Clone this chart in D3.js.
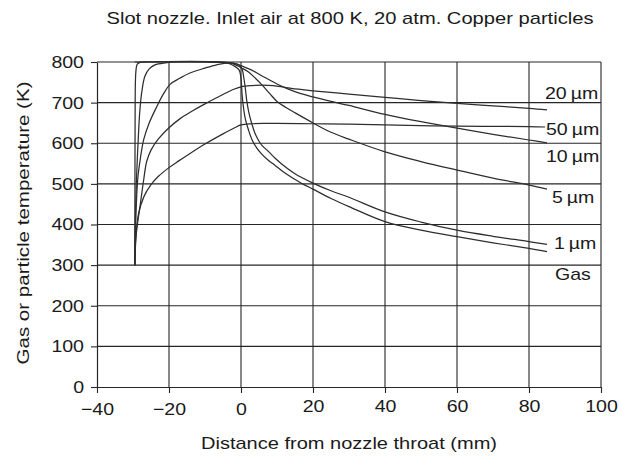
<!DOCTYPE html>
<html><head><meta charset="utf-8">
<script src="https://cdn.jsdelivr.net/npm/d3@7/dist/d3.min.js"></script>
<style>body{margin:0;background:#fff}svg{display:block}</style>
</head><body>
<svg id="chart" width="619" height="457"></svg>
<script>
// ---------- data ----------
const titleText = "Slot nozzle. Inlet air at 800 K, 20 atm. Copper particles";
const xLabelText = "Distance from nozzle throat (mm)";
const yLabelText = "Gas or particle temperature (K)";
const xTicks = [-40, -20, 0, 20, 40, 60, 80, 100];
const yTicks = [0, 100, 200, 300, 400, 500, 600, 700, 800];

const seriesNames = ["Gas", "1\u2009\u00b5m", "5\u2009\u00b5m", "10\u2009\u00b5m", "20\u2009\u00b5m", "50\u2009\u00b5m"];

const gasX = [-29.5, -6, -3, -1.5, -0.5, 0, 0.3, 0.6, 1.2, 2, 3, 4.4, 5.7, 7.5, 9.4, 12, 16.9, 20, 25, 30, 40, 50, 60, 70, 80, 85];
const gasT = [800, 800, 795, 788, 780, 760, 720, 694, 660, 635, 610, 588, 574, 559, 546, 528, 501, 487, 464, 444, 407, 386, 370, 355, 341, 333];

const p1X = [-29.5, -29.45, -29.4, -29.3, -29.1, -28.8, -28, -26, -5, -2, -0.5, 0.3, 0.8, 1.2, 1.6, 2.2, 3, 4, 5, 6, 7.6, 9.5, 11.3, 15, 20, 25, 30, 40, 50, 60, 70, 80, 85];
const p1T = [300, 550, 700, 760, 785, 795, 799, 800, 800, 797, 792, 782, 760, 735, 705, 675, 648, 622, 605, 593, 580, 563, 549, 525, 502, 483, 467, 431, 406, 386, 371, 358, 351];

const p5X = [-29.5, -29.3, -29, -28.6, -28.1, -27.5, -26.7, -25.5, -23.9, -21, -18, -10, -5, -2, 0, 2, 4, 6, 8, 10, 12.5, 15, 20, 25, 30, 40, 50, 60, 70, 80, 85];
const p5T = [300, 430, 520, 600, 680, 730, 765, 783, 793, 798, 800, 800, 799, 795, 786, 776, 760, 742, 722, 703, 688, 675, 650, 627, 610, 579, 555, 534, 514, 497, 487];

const p10X = [-29.5, -29.2, -28.7, -28, -27, -25.5, -23.4, -21.5, -19.7, -17, -14.2, -10, -6.75, -4, -1, 0, 3, 6, 10, 13, 16, 20, 25, 30, 40, 50, 60, 70, 80, 85];
const p10T = [300, 420, 510, 560, 610, 650, 690, 722, 745, 760, 773, 785, 793, 797, 795, 791, 780, 765, 746, 734, 724, 714, 703, 693, 671, 653, 637, 622, 608, 601];

const p20X = [-29.5, -29.4, -29, -28, -27, -26.2, -25, -23, -20, -17, -14, -10, -5, -2, 0, 3, 6, 9, 12.5, 16, 20, 30, 40, 50, 60, 70, 80, 85];
const p20T = [300, 345, 385, 448, 512, 555, 583, 610, 638, 660, 677, 697, 720, 733, 739, 742, 743, 742, 737, 733, 729, 721, 713, 705, 698, 692, 686, 682];

const p50X = [-29.5, -29.3, -29, -28.5, -27, -25, -23, -20, -17.4, -15, -10, -5, -2, 0, 3, 6, 10, 20, 30, 40, 60, 80, 84.5];
const p50T = [300, 350, 390, 425, 468, 498, 518, 540, 556, 570, 598, 623, 637, 645, 648, 649, 649, 648, 647, 645, 642, 641, 640];

// label anchor temperatures (baseline), same order as seriesNames
const labelT = [263, 340, 454, 555, 710, 620];

// ---------- drawing ----------
const svg = d3.select("#chart");
const FONT = "'Liberation Sans', Arial, Helvetica, sans-serif";
const INK = "#262626";
const x = d3.scaleLinear().domain([-40, 100]).range([97, 601]);
const y = d3.scaleLinear().domain([0, 800]).range([387, 62]);

const stretch = (sel, k) => sel.each(function () {
  const w = this.getComputedTextLength();
  d3.select(this).attr("textLength", w * k).attr("lengthAdjust", "spacingAndGlyphs");
});

// grid
const grid = svg.append("g").attr("stroke", INK).attr("stroke-width", 1.1).attr("fill", "none");
grid.selectAll("line.h").data(yTicks.filter(d => d > 0)).join("line")
  .attr("x1", x(-40)).attr("x2", x(100)).attr("y1", d => y(d)).attr("y2", d => y(d));
grid.selectAll("line.v").data(xTicks.filter(d => d > -40)).join("line")
  .attr("y1", y(0)).attr("y2", y(800)).attr("x1", d => x(d)).attr("x2", d => x(d));

// axes
const fmt = d => d < 0 ? "\u2212" + Math.abs(d) : String(d);
const gx = svg.append("g").attr("transform", `translate(0,${y(0)})`)
  .call(d3.axisBottom(x).tickValues(xTicks).tickFormat(fmt).tickSize(6).tickSizeOuter(0).tickPadding(10));
const gy = svg.append("g").attr("transform", `translate(${x(-40)},0)`)
  .call(d3.axisLeft(y).tickValues(yTicks).tickFormat(fmt).tickSize(6).tickSizeOuter(0).tickPadding(7));
[gx, gy].forEach(g => {
  g.selectAll("path.domain").attr("stroke", INK).attr("stroke-width", 1.2);
  g.selectAll(".tick line").attr("stroke", INK).attr("stroke-width", 1.1);
  g.selectAll(".tick text").attr("fill", "#1a1a1a").style("font-family", FONT).style("font-size", "17px");
});
gx.selectAll(".tick text").attr("dy", d => d > 0 ? "0.55em" : "0.71em");
stretch(gx.selectAll(".tick text"), 1.15);
stretch(gy.selectAll(".tick text"), 1.15);

// curves
const series = [[gasX, gasT], [p1X, p1T], [p5X, p5T], [p10X, p10T], [p20X, p20T], [p50X, p50T]];
const line = d3.line().x(d => x(d[0])).y(d => y(d[1])).curve(d3.curveCatmullRom.alpha(0.5));
svg.append("g").selectAll("path").data(series).join("path")
  .attr("d", s => line(s[0].map((v, i) => [v, s[1][i]])))
  .attr("fill", "none").attr("stroke", "#2e2e2e").attr("stroke-width", 1.25);

// series labels
const labelDx = [8, 7, 5, -1, -2, -1];
svg.append("g").selectAll("text").data(seriesNames).join("text")
  .attr("x", (d, i) => x(85) + labelDx[i])
  .attr("y", (d, i) => y(labelT[i]))
  .text(d => d)
  .attr("fill", "#1a1a1a").style("font-family", FONT).style("font-size", "17px")
  .call(stretch, 1.15);

// title and axis labels
svg.append("text").attr("x", 350).attr("y", 24).attr("text-anchor", "middle")
  .text(titleText).attr("fill", "#1a1a1a").style("font-family", FONT).style("font-size", "17px")
  .attr("textLength", 487).attr("lengthAdjust", "spacingAndGlyphs");
svg.append("text").attr("x", 349).attr("y", 449).attr("text-anchor", "middle")
  .text(xLabelText).attr("fill", "#1a1a1a").style("font-family", FONT).style("font-size", "17px")
  .attr("textLength", 296).attr("lengthAdjust", "spacingAndGlyphs");
svg.append("text").attr("transform", "translate(29,223) rotate(-90)").attr("text-anchor", "middle")
  .text(yLabelText).attr("fill", "#1a1a1a").style("font-family", FONT).style("font-size", "17px")
  .attr("textLength", 283).attr("lengthAdjust", "spacingAndGlyphs");
</script>
</body></html>
